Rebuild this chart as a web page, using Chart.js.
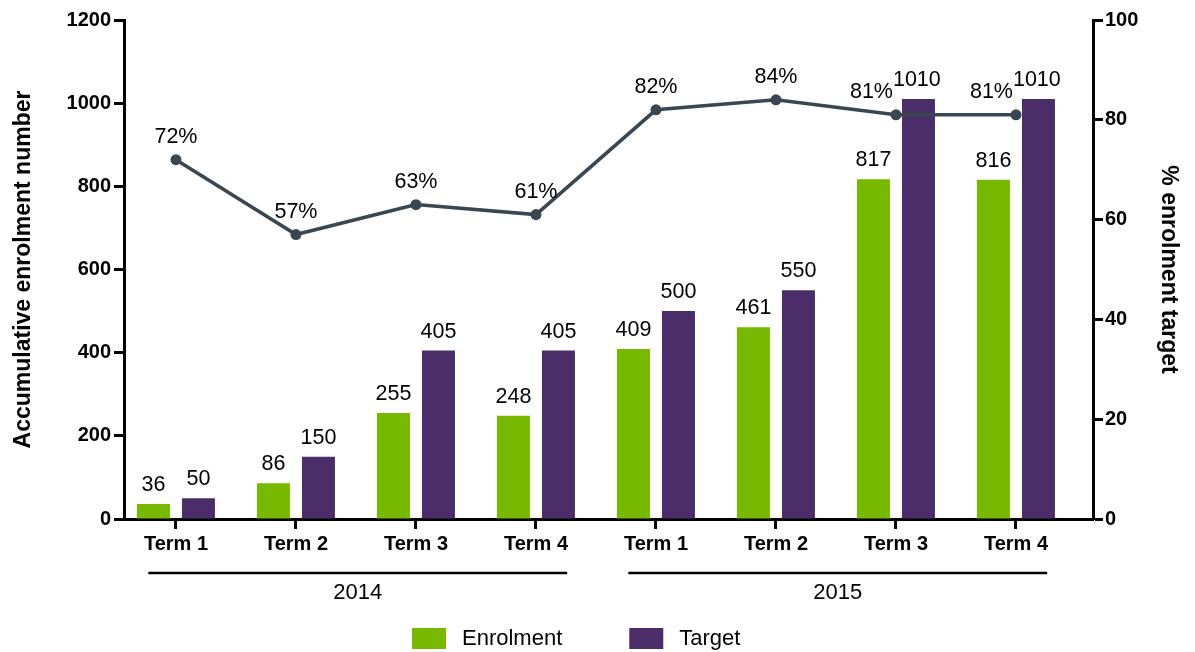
<!DOCTYPE html>
<html>
<head>
<meta charset="utf-8">
<script src="https://cdn.jsdelivr.net/npm/chart.js@4.4.0/dist/chart.umd.min.js"></script>
<style>
  html, body { margin: 0; padding: 0; background: #fff; }
</style>
</head>
<body>
<canvas id="chart" width="1195" height="652"></canvas>
<script>
// ── DATA ──────────────────────────────────────────────────────
const terms      = ['Term 1', 'Term 2', 'Term 3', 'Term 4', 'Term 1', 'Term 2', 'Term 3', 'Term 4'];
const years      = ['2014', '2015'];
const termYear   = [0, 0, 0, 0, 1, 1, 1, 1];
const enrolment  = [36, 86, 255, 248, 409, 461, 817, 816];
const target     = [50, 150, 405, 405, 500, 550, 1010, 1010];
const pctTarget  = [72, 57, 63, 61, 82, 84, 81, 81];

// ── STYLE ─────────────────────────────────────────────────────
const FONT   = "'Liberation Sans', Arial, Helvetica, sans-serif";
const GREEN  = '#77b800';
const PURPLE = '#4b2d69';
const LINE   = '#3a4750';
const tickFont  = { family: FONT, size: 20, weight: 'bold' };
const titleFont = { family: FONT, size: 23, weight: 'bold' };

function axisOpts(extra) {
  return {
    grid:   { drawOnChartArea: false, tickLength: 10, tickWidth: 3, tickColor: '#000', offset: false },
    border: { color: '#000', width: 3 },
    ...extra
  };
}

// Labels above bars and line points, year groups under the axis, legend
const annotate = {
  id: 'annotate',
  afterDatasetsDraw(chart) {
    const c = chart.ctx;
    const area = chart.chartArea;
    const x = chart.scales.x;
    const lineMeta = chart.getDatasetMeta(0);
    const enrMeta  = chart.getDatasetMeta(1);
    const tgtMeta  = chart.getDatasetMeta(2);

    c.save();
    c.fillStyle = '#000';
    c.font = `21.5px ${FONT}`;
    c.textBaseline = 'alphabetic';

    enrMeta.data.forEach((bar, i) => {
      c.textAlign = 'center';
      c.fillText(String(enrolment[i]), bar.x, bar.y - 13);
    });

    lineMeta.data.forEach((pt, i) => {
      const tBar = tgtMeta.data[i];
      const pctY = pt.y - 17;
      const barY = tBar.y - 13;
      const clash = Math.abs(pctY - barY) < 26;
      c.textAlign = clash ? 'right' : 'center';
      c.fillText(pctTarget[i] + '%', clash ? pt.x - 3 : pt.x, pctY);
      c.textAlign = clash ? 'left' : 'center';
      c.fillText(String(target[i]), clash ? pt.x - 3 : tBar.x, barY);
    });

    // year groups
    const step = x.getPixelForValue(1) - x.getPixelForValue(0);
    years.forEach((yr, g) => {
      const idx = termYear.map((t, i) => t === g ? i : -1).filter(i => i >= 0);
      const x0 = x.getPixelForValue(idx[0]) - step * 0.23;
      const x1 = x.getPixelForValue(idx[idx.length - 1]) + step * 0.26;
      const y = area.bottom + 54;
      c.strokeStyle = '#000';
      c.lineWidth = 2.5;
      c.beginPath();
      c.moveTo(x0, y);
      c.lineTo(x1, y);
      c.stroke();
      c.font = `22px ${FONT}`;
      c.textAlign = 'center';
      c.textBaseline = 'middle';
      c.fillText(yr, (x0 + x1) / 2, y + 20);
    });

    // legend (bar datasets only)
    const items = chart.data.datasets.filter(d => d.type !== 'line');
    let lx = 412;
    const ly = 628;
    c.font = `22px ${FONT}`;
    c.textAlign = 'left';
    c.textBaseline = 'middle';
    items.forEach(d => {
      c.fillStyle = d.backgroundColor;
      c.fillRect(lx, ly, 34, 21);
      c.fillStyle = '#000';
      c.fillText(d.label, lx + 50, ly + 11);
      lx += 50 + c.measureText(d.label).width + 67;
    });
    c.restore();
  }
};

new Chart(document.getElementById('chart'), {
  type: 'bar',
  data: {
    labels: terms,
    datasets: [
      {
        type: 'line', label: '% enrolment target', data: pctTarget, yAxisID: 'y1', order: 0,
        borderColor: LINE, backgroundColor: LINE, borderWidth: 3.5,
        pointRadius: 5.5, pointBackgroundColor: LINE, pointBorderWidth: 0, tension: 0
      },
      { label: 'Enrolment', data: enrolment, yAxisID: 'y', backgroundColor: GREEN, order: 1 },
      { label: 'Target',    data: target,    yAxisID: 'y', backgroundColor: PURPLE, order: 1 }
    ]
  },
  options: {
    responsive: false,
    animation: false,
    categoryPercentage: 0.75,
    barPercentage: 0.733,
    layout: { padding: { top: 20, left: 0, right: 0, bottom: 0 } },
    plugins: { legend: { display: false }, tooltip: { enabled: false } },
    scales: {
      x: axisOpts({
        offset: true,
        ticks: { color: '#000', font: tickFont, padding: 3, maxRotation: 0 },
        // first term sits a bit closer to the left axis than an even split
        afterBuildTicks(s) { s._startValue = -0.433; s._valueRange = 8.075; },
        afterFit(s) { s.height = 133; }
      }),
      y: axisOpts({
        position: 'left', min: 0, max: 1200,
        ticks: { color: '#000', font: tickFont, padding: 3, stepSize: 200, callback: v => String(v) },
        title: { display: true, text: 'Accumulative enrolment number', color: '#000',
                 font: titleFont, padding: { top: 10, bottom: 0 } },
        afterFit(s) { s.width = 124; }
      }),
      y1: axisOpts({
        position: 'right', min: 0, max: 100,
        ticks: { color: '#000', font: tickFont, padding: 2, stepSize: 20, callback: v => String(v) },
        title: { display: true, text: '% enrolment target', color: '#000',
                 font: titleFont, padding: { top: 13, bottom: 0 } },
        afterFit(s) { s.width = 102; }
      })
    }
  },
  plugins: [annotate]
});
</script>
</body>
</html>
